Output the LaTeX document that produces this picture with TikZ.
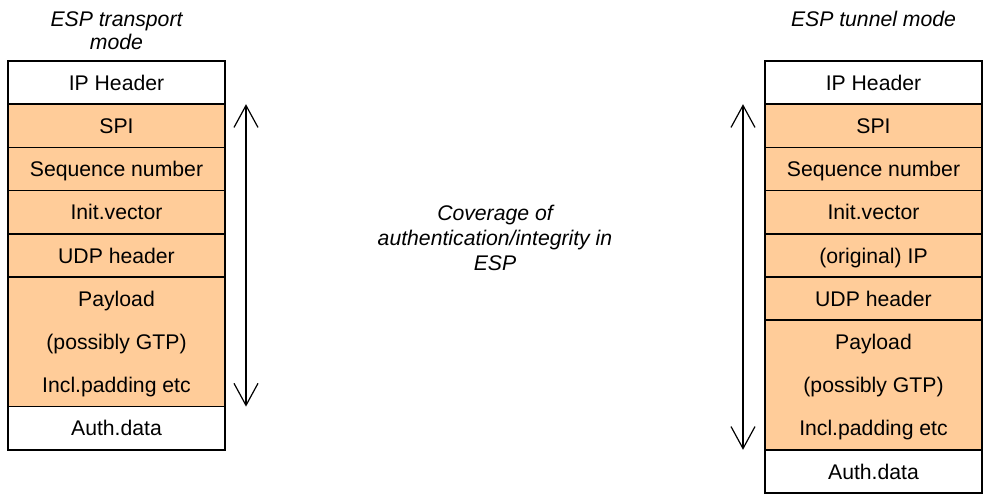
\documentclass[tikz,border=0pt]{standalone}
\usepackage{fontspec}
\setmainfont{Liberation Sans}
\usetikzlibrary{arrows.meta}
\definecolor{peach}{HTML}{FFCC99}
\begin{document}
\begin{tikzpicture}[x=1pt,y=-1pt,
  cell/.style={draw, line width=1.5pt, minimum width=217pt, minimum height=43.2pt,
    inner sep=0pt, outer sep=0pt, anchor=north west,
    font=\fontsize{21.2}{25}\selectfont, text height=15.2pt, text depth=0pt},
  espcell/.style={cell, fill=peach},
  plaincell/.style={cell, fill=white},
  paybox/.style={espcell, minimum height=129.6pt},
  celltext/.style={inner sep=0pt, font=\fontsize{21.2}{25}\selectfont, text height=15.2pt, text depth=0pt},
  ttl/.style={inner sep=0pt, align=center, font=\fontsize{21.2}{23}\selectfont\itshape},
  cover/.style={line width=1.2pt, {Straight Barb[length=22pt,width=24pt]}-{Straight Barb[length=22pt,width=24pt]}}
]
\useasboundingbox (0,0) rectangle (985,495);

% titles
\node[ttl] (t1) at (116.5,31) {ESP transport\\mode};
\node[ttl, text height=15.2pt, text depth=0pt] (t2) at (873.5,19.4) {ESP tunnel mode};
\node[ttl, font=\fontsize{21.2}{25}\selectfont\itshape] (mid) at (495,237.5) {Coverage of\\authentication/integrity in\\ESP};

% left stack (transport mode)
\node[plaincell] (ip1)  at (8,61)    {IP Header};
\node[espcell]   (spi1) at (8,104.2) {SPI};
\node[espcell]   (seq1) at (8,147.4) {Sequence number};
\node[espcell]   (iv1)  at (8,190.6) {Init.vector};
\node[espcell]   (udp1) at (8,233.8) {UDP header};
\node[paybox]    (pay1) at (8,277)   {};
\node[plaincell] (auth1) at (8,406.6) {Auth.data};
\node[celltext] (p1a) at (116.5,298.6) {Payload};
\node[celltext] (p1b) at (116.5,341.8) {(possibly GTP)};
\node[celltext] (p1c) at (116.5,385)   {Incl.padding etc};

% right stack (tunnel mode)
\node[plaincell] (ip2)  at (765,61)    {IP Header};
\node[espcell]   (spi2) at (765,104.2) {SPI};
\node[espcell]   (seq2) at (765,147.4) {Sequence number};
\node[espcell]   (iv2)  at (765,190.6) {Init.vector};
\node[espcell]   (oip2) at (765,233.8) {(original) IP};
\node[espcell]   (udp2) at (765,277)   {UDP header};
\node[paybox]    (pay2) at (765,320.2) {};
\node[plaincell] (auth2) at (765,449.8) {Auth.data};
\node[celltext] (p2a) at (873.5,341.8) {Payload};
\node[celltext] (p2b) at (873.5,385)   {(possibly GTP)};
\node[celltext] (p2c) at (873.5,428.2) {Incl.padding etc};

% coverage arrows
\coordinate (a1t) at ([xshift=21pt]spi1.north east);
\coordinate (a1b) at ([xshift=21pt]pay1.south east);
\coordinate (a2t) at ([xshift=-22pt]spi2.north west);
\coordinate (a2b) at ([xshift=-22pt]pay2.south west);
\draw[cover] (a1b) -- (a1t);
\draw[cover] (a2b) -- (a2t);
\end{tikzpicture}
\end{document}
